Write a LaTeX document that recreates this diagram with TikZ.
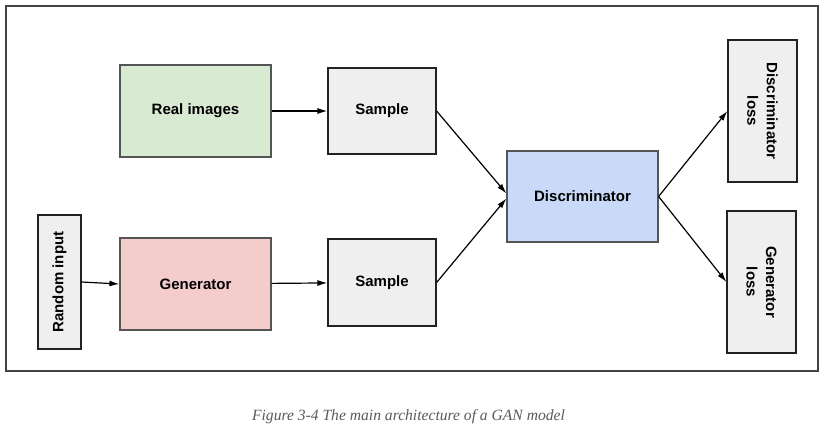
\documentclass[tikz,border=0pt]{standalone}
\usepackage{fontspec}
\setmainfont{Liberation Sans}
\newfontfamily\captionfont{Liberation Serif}
\usetikzlibrary{arrows.meta}
\definecolor{realgreen}{HTML}{D9EAD3}
\definecolor{genred}{HTML}{F4CCCC}
\definecolor{discblue}{HTML}{C9DAF8}
\definecolor{samplegray}{HTML}{EFEFEF}
\definecolor{boxline}{HTML}{555555}
\definecolor{darkline}{HTML}{222222}
\definecolor{frameline}{HTML}{444444}
\definecolor{captiongray}{HTML}{5A5A5A}

\begin{document}
\begin{tikzpicture}[x=1pt,y=-1pt,
  box/.style={draw=boxline, line width=1.2pt, inner sep=0pt, align=center,
    font=\bfseries\fontsize{15}{19.5}\selectfont},
  flow/.style={-{Latex[length=10pt,width=6pt]}, line width=1.2pt}]

\useasboundingbox (0,0) rectangle (826,433);
\draw[frameline, line width=1.5pt] (6,6) rectangle (818,371);

\node[box, fill=realgreen, minimum width=151pt, minimum height=92pt] (real) at (195.5,111) {Real images};
\node[box, draw=darkline, fill=samplegray, minimum width=108pt, minimum height=86pt] (sampleA) at (382,111) {Sample};

\node[box, draw=darkline, fill=samplegray, rotate=90, minimum width=134pt, minimum height=43pt] (rand) at (59.5,282) {Random input};
\node[box, fill=genred, minimum width=151pt, minimum height=92pt] (gen) at (195.5,284) {Generator};
\node[box, draw=darkline, fill=samplegray, minimum width=108pt, minimum height=87pt] (sampleB) at (382,282.5) {Sample};

\node[box, fill=discblue, minimum width=151pt, minimum height=91pt] (disc) at (582.5,196.5) {Discriminator};

\node[box, draw=darkline, fill=samplegray, rotate=-90, minimum width=142pt, minimum height=69pt] (dloss) at (762.5,111) {Discriminator\\loss};
\node[box, draw=darkline, fill=samplegray, rotate=-90, minimum width=142pt, minimum height=69pt] (gloss) at (761.5,282) {Generator\\loss};

\draw[flow] (real) -- (sampleA);
\draw[flow] (rand.south) -- (gen.west);
\draw[flow] (gen) -- (sampleB);
\draw[flow] (sampleA.east) -- ([yshift=3pt]disc.west);
\draw[flow] (sampleB.east) -- ([yshift=-2pt]disc.west);
\draw[flow] (disc.east) -- (dloss.south);
\draw[flow] (disc.east) -- (gloss.south);

\node[font=\captionfont\itshape\fontsize{15.6}{18}\selectfont, text=captiongray] (caption) at (408.5,417) {Figure 3-4 The main architecture of a GAN model};
\end{tikzpicture}
\end{document}
